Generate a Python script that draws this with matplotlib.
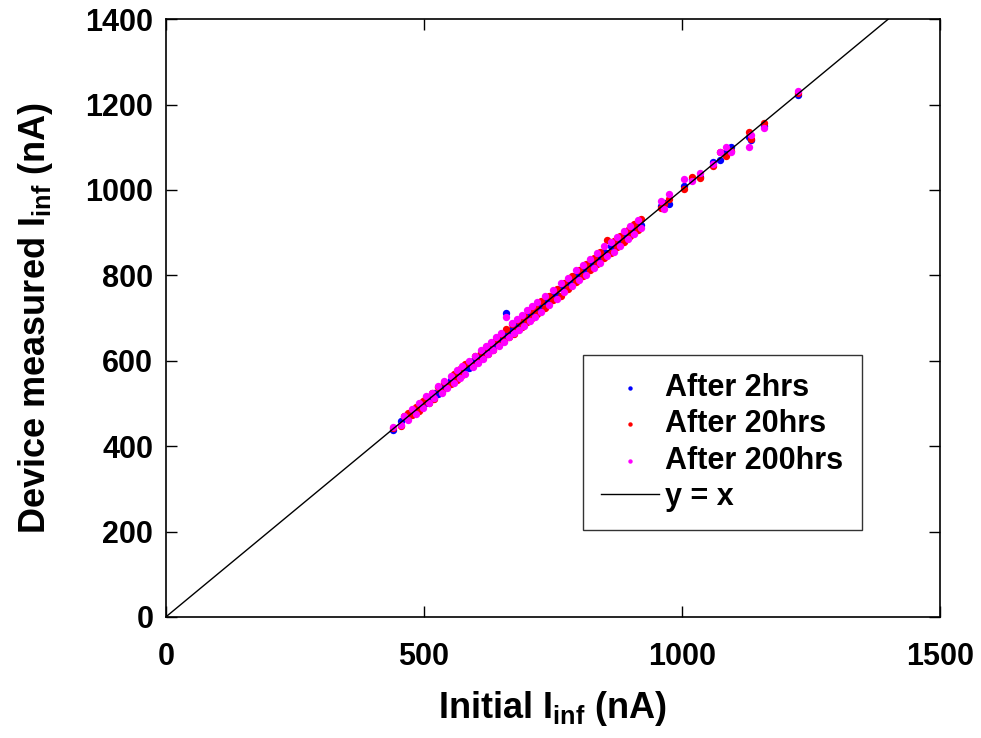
import matplotlib
matplotlib.use("Agg")
import matplotlib.pyplot as plt

# ---------- DATA ----------
initial = [440, 455, 462, 470, 478, 485, 490, 498, 505, 510, 515, 520, 528, 535, 540,
           545, 552, 558, 565, 570, 575, 580, 588, 595, 600, 605, 610, 615, 620, 625,
           630, 635, 640, 645, 650, 655, 660, 665, 670, 675, 680, 685, 690, 695, 700,
           705, 710, 715, 720, 728, 735, 742, 750, 758, 765, 772, 780, 788, 795, 800,
           808, 815, 822, 830, 836, 842, 850, 856, 862, 868, 875, 880, 888, 895, 900,
           908, 915, 920, 960, 965, 975, 1005, 1020, 1035, 1060, 1075, 1085, 1095, 1130,
           1135, 1160, 1225]

after_2hrs = [438, 458, 465, 468, 482, 480, 495, 502, 500, 515, 512, 525, 522, 538, 545,
              541, 556, 553, 570, 566, 580, 584, 583, 600, 597, 610, 607, 620, 616, 632,
              626, 640, 636, 650, 645, 662, 712, 668, 675, 671, 686, 681, 696, 690, 706,
              700, 716, 712, 726, 724, 740, 738, 755, 754, 770, 768, 785, 784, 800, 797,
              812, 811, 828, 826, 842, 838, 855, 852, 868, 864, 880, 876, 893, 892, 906,
              904, 920, 917, 962, 970, 968, 1010, 1025, 1030, 1065, 1070, 1090, 1100, 1125,
              1118, 1150, 1222]

after_20hrs = [442, 448, 470, 478, 472, 492, 482, 506, 514, 500, 524, 510, 538, 526, 550,
               540, 546, 568, 556, 580, 566, 592, 596, 588, 612, 598, 620, 606, 632, 616,
               642, 626, 652, 636, 662, 646, 674, 656, 686, 662, 672, 694, 680, 706, 690,
               718, 700, 726, 710, 740, 724, 752, 742, 768, 752, 782, 768, 798, 784, 812,
               798, 826, 812, 840, 826, 854, 840, 882, 852, 880, 866, 892, 878, 906, 892,
               920, 906, 932, 958, 966, 980, 1002, 1030, 1028, 1055, 1090, 1080, 1092, 1135,
               1120, 1158, 1228]

after_200hrs = [445, 450, 470, 462, 488, 476, 500, 490, 518, 500, 525, 512, 540, 524, 552,
                536, 565, 548, 578, 560, 588, 570, 600, 585, 612, 595, 625, 605, 635, 615,
                645, 625, 655, 635, 665, 645, 702, 655, 688, 665, 698, 672, 708, 682, 718,
                692, 728, 702, 738, 715, 752, 730, 765, 745, 782, 760, 795, 775, 812, 790,
                825, 800, 838, 818, 852, 830, 868, 845, 878, 855, 890, 868, 905, 885, 915,
                898, 930, 910, 975, 955, 990, 1025, 1020, 1040, 1060, 1090, 1100, 1090, 1100,
                1128, 1145, 1232]

identity = [0, 1400]

# ---------- STYLE ----------
plt.rcParams["font.family"] = ["Liberation Sans", "DejaVu Sans"]
plt.rcParams["font.weight"] = "bold"
plt.rcParams["mathtext.fontset"] = "custom"
plt.rcParams["mathtext.rm"] = "Liberation Sans:bold"
plt.rcParams["mathtext.it"] = "Liberation Sans:bold"
plt.rcParams["mathtext.bf"] = "Liberation Sans:bold"

fig = plt.figure(figsize=(9.81, 7.38), dpi=100)
ax = fig.add_axes([0.169, 0.164, 0.789, 0.810])

ax.scatter(initial, after_2hrs, s=28, color="#0000ff", linewidths=0, label="After 2hrs", zorder=2)
ax.scatter(initial, after_20hrs, s=28, color="#ff0000", linewidths=0, label="After 20hrs", zorder=3)
ax.scatter(initial, after_200hrs, s=28, color="#ff00ff", linewidths=0, label="After 200hrs", zorder=4)
ax.plot(identity, identity, color="black", linewidth=1.0, label="y = x", zorder=5)

ax.set_xlim(0, 1500)
ax.set_ylim(0, 1400)
ax.set_xticks([0, 500, 1000, 1500])
ax.set_yticks([0, 200, 400, 600, 800, 1000, 1200, 1400])
ax.tick_params(direction="in", length=8, width=1, top=True, right=True, labelsize=22)
ax.tick_params(axis="y", pad=9)
ax.tick_params(axis="x", pad=18)
for lbl in ax.get_xticklabels() + ax.get_yticklabels():
    lbl.set_fontweight("bold")
for sp in ax.spines.values():
    sp.set_linewidth(1.2)

ax.set_xlabel(r"Initial I$_{inf}$ (nA)", fontsize=26, fontweight="bold", labelpad=12)
ax.set_ylabel(r"Device measured I$_{inf}$ (nA)", fontsize=26, fontweight="bold", labelpad=22)

leg = ax.legend(loc="lower left", bbox_to_anchor=(0.539, 0.1455), fontsize=22,
                frameon=True, fancybox=False, edgecolor="black", markerscale=0.6,
                handlelength=1.9, handletextpad=0.2, borderpad=0.6, labelspacing=0.2,
                borderaxespad=0)
leg.get_frame().set_linewidth(1.0)
for t in leg.get_texts():
    t.set_fontweight("bold")

fig.savefig("out.png", dpi=100)
